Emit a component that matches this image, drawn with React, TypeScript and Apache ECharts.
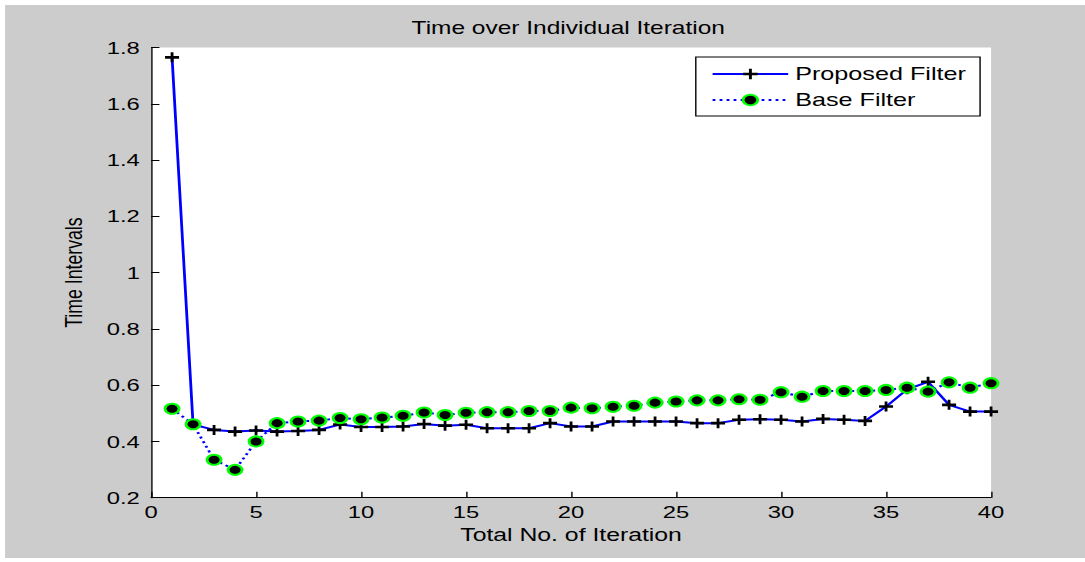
import React, { useEffect, useRef } from "react";
import * as echarts from "echarts";

const iterations = [
  1, 2, 3, 4, 5, 6, 7, 8, 9, 10, 11, 12, 13, 14, 15, 16, 17, 18, 19, 20,
  21, 22, 23, 24, 25, 26, 27, 28, 29, 30, 31, 32, 33, 34, 35, 36, 37, 38, 39, 40,
];

const proposedFilter = [
  1.765, 0.46, 0.441, 0.435, 0.439, 0.435, 0.437, 0.441, 0.46, 0.451,
  0.451, 0.453, 0.462, 0.456, 0.459, 0.447, 0.447, 0.447, 0.465, 0.453,
  0.453, 0.471, 0.471, 0.471, 0.471, 0.465, 0.465, 0.477, 0.479, 0.477,
  0.471, 0.48, 0.477, 0.473, 0.524, 0.585, 0.612, 0.53, 0.506, 0.506,
];

const baseFilter = [
  0.516, 0.461, 0.335, 0.299, 0.4, 0.465, 0.471, 0.474, 0.483, 0.479,
  0.485, 0.491, 0.503, 0.494, 0.502, 0.504, 0.504, 0.508, 0.508, 0.52,
  0.518, 0.523, 0.527, 0.538, 0.542, 0.546, 0.546, 0.55, 0.548, 0.575,
  0.559, 0.579, 0.579, 0.579, 0.583, 0.591, 0.577, 0.61, 0.591, 0.607,
];

const titleText = "Time over Individual Iteration";
const xAxisName = "Total No. of Iteration";
const yAxisName = "Time Intervals";
const seriesNames = ["Proposed Filter", "Base Filter"];

const FONT = '"Liberation Sans", Arial, sans-serif';
const STRETCH = 1.4;
const BASE_W = 775;
const H = 562;

const plusPath = "path://M4,0H6V3.7H10V6.3H6V10H4V6.3H0V3.7H4Z";

export default function App() {
  const ref = useRef<HTMLDivElement>(null);

  useEffect(() => {
    document.body.style.margin = "0";
    if (!ref.current) return;
    const chart = echarts.init(ref.current, undefined, { renderer: "svg" });
    const pts = (vals: number[]) => iterations.map((x, i) => [x, vals[i]]);
    chart.setOption({
      animation: false,
      backgroundColor: "#ffffff",
      textStyle: { fontFamily: FONT, color: "#000" },
      graphic: [
        {
          type: "rect",
          z: -10,
          silent: true,
          shape: { x: 3.6, y: 5, width: BASE_W - 3.6, height: 553 },
          style: { fill: "#cccccc" },
        },
      ],
      title: {
        text: titleText,
        left: 294,
        top: 19,
        padding: 0,
        textStyle: { fontFamily: FONT, fontSize: 17.5, fontWeight: "normal", color: "#000" },
      },
      legend: {
        orient: "vertical",
        left: 497,
        top: 57,
        padding: [8, 10, 7, 11],
        itemGap: 8,
        itemWidth: 54,
        itemHeight: 13,
        backgroundColor: "#ffffff",
        borderColor: "#000",
        borderWidth: 1,
        borderRadius: 0,
        textStyle: { fontFamily: FONT, fontSize: 18, color: "#000" },
        data: seriesNames,
      },
      grid: {
        left: 107.9,
        top: 47.5,
        width: 600,
        height: 450.2,
        show: true,
        backgroundColor: "#ffffff",
        borderWidth: 0,
      },
      xAxis: {
        type: "value",
        min: 0,
        max: 40,
        interval: 5,
        name: xAxisName,
        nameLocation: "middle",
        nameGap: 29,
        nameTextStyle: { fontFamily: FONT, fontSize: 17.7, color: "#000" },
        axisLine: { show: true, onZero: false, lineStyle: { color: "#000", width: 1 } },
        axisTick: { show: true, inside: true, length: 6, lineStyle: { color: "#000" } },
        axisLabel: { fontFamily: FONT, fontSize: 17, color: "#000", margin: 6 },
        splitLine: { show: false },
      },
      yAxis: {
        type: "value",
        min: 0.2,
        max: 1.8,
        interval: 0.2,
        name: yAxisName,
        nameLocation: "middle",
        nameGap: 46,
        nameTextStyle: { fontFamily: FONT, fontSize: 17.7, color: "#000" },
        axisLine: { show: true, lineStyle: { color: "#000", width: 1 } },
        axisTick: { show: true, inside: true, length: 6, lineStyle: { color: "#000" } },
        axisLabel: { fontFamily: FONT, fontSize: 17, color: "#000", margin: 8 },
        splitLine: { show: false },
      },
      series: [
        {
          name: seriesNames[0],
          type: "line",
          data: pts(proposedFilter),
          symbol: plusPath,
          symbolSize: 10,
          showAllSymbol: true,
          lineStyle: { color: "#0000ff", width: 2, type: "solid" },
          itemStyle: { color: "#000000" },
          z: 2,
        },
        {
          name: seriesNames[1],
          type: "line",
          data: pts(baseFilter),
          symbol: "circle",
          symbolSize: 10,
          showAllSymbol: true,
          lineStyle: { color: "#0000ff", width: 2, type: [2, 3] },
          itemStyle: { color: "#000000", borderColor: "#00ff00", borderWidth: 2 },
          z: 3,
        },
      ],
    });
    return () => chart.dispose();
  }, []);

  return (
    <div style={{ width: 1085, height: H, overflow: "hidden", background: "#fff" }}>
      <div
        ref={ref}
        style={{
          width: BASE_W,
          height: H,
          transform: `scaleX(${STRETCH})`,
          transformOrigin: "0 0",
        }}
      />
    </div>
  );
}
